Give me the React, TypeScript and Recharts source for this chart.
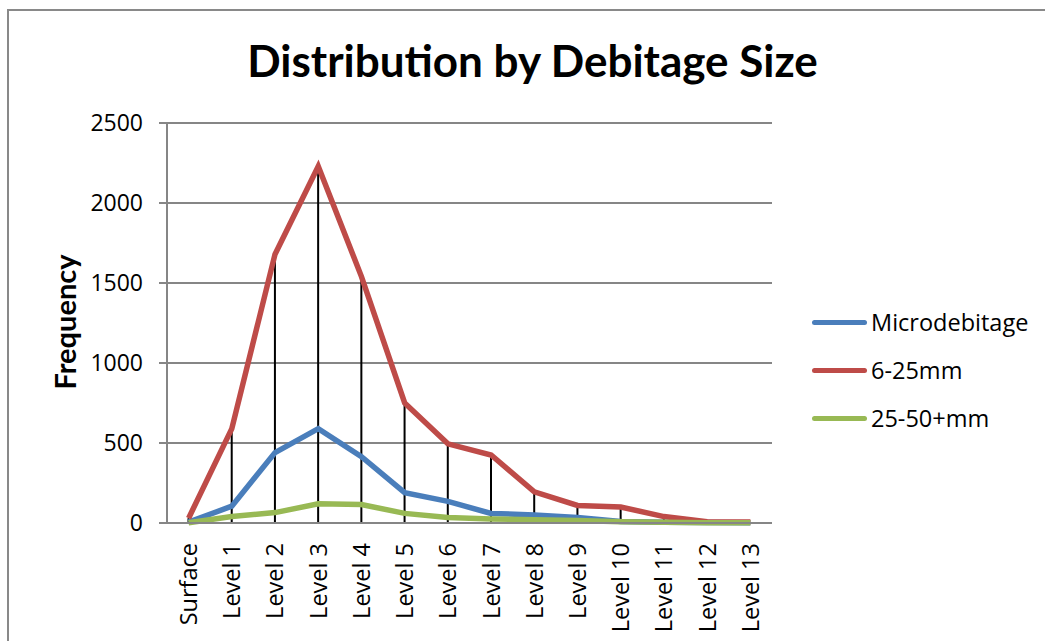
import React from 'react';
import { ComposedChart, Line, Bar, XAxis, YAxis, CartesianGrid } from 'recharts';

const levels = ['Surface', 'Level 1', 'Level 2', 'Level 3', 'Level 4', 'Level 5', 'Level 6', 'Level 7', 'Level 8', 'Level 9', 'Level 10', 'Level 11', 'Level 12', 'Level 13'];
const micro = [5, 105, 440, 590, 415, 190, 135, 60, 50, 35, 10, 5, 3, 2];
const mid = [30, 590, 1680, 2230, 1540, 750, 495, 425, 195, 110, 100, 40, 8, 6];
const large = [2, 40, 65, 120, 115, 60, 35, 25, 20, 15, 8, 5, 2, 1];
const yTicks = [0, 500, 1000, 1500, 2000, 2500];

const series = [
  { key: 'micro', name: 'Microdebitage', color: '#4A7EBB' },
  { key: 'mid', name: '6-25mm', color: '#BE4B48' },
  { key: 'large', name: '25-50+mm', color: '#98B954' },
];

const font = '"Open Sans", "Liberation Sans", sans-serif';
const boldFont = 'Lato, "Open Sans", sans-serif';

const data = levels.map((level, i) => ({
  level,
  micro: micro[i],
  mid: mid[i],
  large: large[i],
  drop: Math.max(micro[i], mid[i], large[i]),
}));

// drop line from the highest point to the axis
const DropLine = (props: any) => {
  const { x, y, width, height } = props;
  const cx = x + width / 2;
  return <line x1={cx} x2={cx} y1={y} y2={y + height} stroke="#000" strokeWidth={2} />;
};

const LevelTick = (props: any) => {
  const { x, payload } = props;
  const y = 543;
  return (
    <text x={x} y={y} transform={`rotate(-90, ${x}, ${y})`} textAnchor="end" dy="0.36em" fontSize={23.5} fill="#000" fontFamily={font}>
      {payload.value}
    </text>
  );
};

export default function App() {
  return (
    <div style={{ position: 'absolute', left: 0, top: 0, width: 1045, height: 641, overflow: 'hidden', background: '#fff' }}>
      <div style={{ position: 'absolute', left: 7, top: 9, width: 1100, height: 700, border: '2px solid #898989' }} />
      <div style={{ position: 'absolute', left: 0, width: 1065, top: 32, textAlign: 'center', fontFamily: boldFont, fontWeight: 700, fontSize: 44, lineHeight: '56px' }}>
        Distribution by Debitage Size
      </div>
      <div style={{ position: 'absolute', left: 64, top: 322, transform: 'translate(-50%, -50%) rotate(-90deg)', fontFamily: boldFont, fontWeight: 700, fontSize: 29, whiteSpace: 'nowrap' }}>
        Frequency
      </div>
      <div style={{ position: 'absolute', left: 0, top: 0 }}>
        <ComposedChart width={1045} height={641} data={data} margin={{ top: 123, right: 273, bottom: 0, left: 0 }} barCategoryGap={0}>
          <CartesianGrid horizontal vertical={false} stroke="#868686" strokeWidth={2} />
          <XAxis dataKey="level" height={118} interval={0} tickLine={false} axisLine={{ stroke: '#868686', strokeWidth: 2 }} tick={<LevelTick />} />
          <YAxis width={167} domain={[0, 2500]} ticks={yTicks} tickSize={8} tickMargin={16} axisLine={{ stroke: '#868686', strokeWidth: 2 }} tickLine={{ stroke: '#868686', strokeWidth: 2 }} tick={{ fontSize: 23, fill: '#000', fontFamily: font }} />
          <Bar dataKey="drop" shape={<DropLine />} isAnimationActive={false} legendType="none" />
          {series.map((s) => (
            <Line key={s.key} dataKey={s.key} name={s.name} stroke={s.color} strokeWidth={5.5} dot={false} type="linear" isAnimationActive={false} />
          ))}
        </ComposedChart>
      </div>
      <div style={{ position: 'absolute', left: 812, top: 298, fontFamily: font, fontSize: 23.5 }}>
        {series.map((s) => (
          <div key={s.key} style={{ display: 'flex', alignItems: 'center', height: 48 }}>
            <div style={{ width: 55, height: 5, borderRadius: 3, background: s.color, marginRight: 4 }} />
            <span>{s.name}</span>
          </div>
        ))}
      </div>
    </div>
  );
}
